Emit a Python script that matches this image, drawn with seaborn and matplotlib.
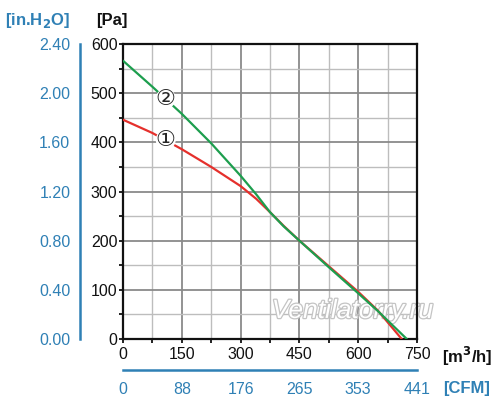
import numpy as np
import pandas as pd
import seaborn as sns
import matplotlib.pyplot as plt
import matplotlib.patheffects as pe
from matplotlib.ticker import MultipleLocator, FixedLocator, FixedFormatter

# curve 1 (red) and curve 2 (green), flow in m3/h, pressure in Pa
flow_1 = [0, 75, 150, 225, 300, 340, 375, 410, 450, 525, 600, 650, 711]
pa_1 = [446, 419, 386, 350, 311, 285, 258, 230, 200, 148, 96, 58, 0]
flow_2 = [0, 75, 150, 225, 300, 340, 375, 410, 450, 525, 600, 650, 724]
pa_2 = [566, 513, 458, 398, 332, 294, 258, 229, 200, 146, 93, 57, 0]

flow_ticks = [0, 150, 300, 450, 600, 750]
cfm_labels = ["0", "88", "176", "265", "353", "441"]
inh2o_max = 2.40

df = pd.concat([
    pd.DataFrame({"flow": flow_1, "pa": pa_1, "curve": "1"}),
    pd.DataFrame({"flow": flow_2, "pa": pa_2, "curve": "2"}),
])

sns.set_style("white")
plt.rcParams['font.family'] = ['Liberation Sans', 'DejaVu Sans']

blue = '#2f80b5'
W, H = 500, 413
fig = plt.figure(figsize=(5, 4.13), dpi=100)
x0, x1, y0, y1 = 123, 417, 339, 44
ax = fig.add_axes([x0 / W, 1 - y0 / H, (x1 - x0) / W, (y0 - y1) / H])

sns.lineplot(data=df, x="flow", y="pa", hue="curve", palette=['#e5302c', '#1d9e4e'],
             linewidth=1.6, legend=False, ax=ax, sort=False, zorder=3)

ax.set_xlim(0, 750)
ax.set_ylim(0, 600)
ax.xaxis.set_major_locator(MultipleLocator(150))
ax.xaxis.set_minor_locator(MultipleLocator(75))
ax.yaxis.set_major_locator(MultipleLocator(100))
ax.yaxis.set_minor_locator(MultipleLocator(50))
ax.grid(which='major', color='#8a8a8a', linewidth=1.3)
ax.grid(which='minor', color='#bdbdbd', linewidth=1.0)
ax.set_axisbelow(True)
for s in ax.spines.values():
    s.set_color('#111111')
    s.set_linewidth(1.6)
ax.tick_params(which='both', direction='out', length=3, width=1.3, colors='#111111',
               labelsize=11.5, pad=1)
ax.tick_params(axis='x', which='major', pad=3)
ax.tick_params(which='both', bottom=True, left=True)
ax.set_xlabel("")
ax.set_ylabel("")

# circled curve labels
ax.text(109, 489, "②", family='DejaVu Sans', fontsize=16, ha='center', va='center',
        zorder=5, bbox=dict(boxstyle='circle,pad=0.0', fc='white', ec='none'))
ax.text(109, 405, "①", family='DejaVu Sans', fontsize=16, ha='center', va='center',
        zorder=5, bbox=dict(boxstyle='circle,pad=0.0', fc='white', ec='none'))

# watermark
ax.text(585, 57, "Ventilatorry.ru", fontsize=19, style='italic', ha='center', va='center',
        color='white', zorder=2,
        path_effects=[pe.withStroke(linewidth=1.8, foreground='#c4c4c4')])

# left in.H2O axis
axl = fig.add_axes([80 / W, 1 - y0 / H, 0.0001, (y0 - y1) / H])
axl.set_ylim(0, inh2o_max)
axl.yaxis.set_major_locator(MultipleLocator(0.4))
axl.yaxis.set_minor_locator(MultipleLocator(0.2))
axl.yaxis.set_major_formatter(plt.FormatStrFormatter('%.2f'))
axl.set_xticks([])
for k in ['top', 'right', 'bottom']:
    axl.spines[k].set_visible(False)
axl.spines['left'].set_color(blue)
axl.spines['left'].set_linewidth(1.8)
axl.tick_params(which='both', direction='out', colors=blue, width=1.6, labelsize=11.5)
axl.tick_params(which='major', length=4, pad=3)
axl.tick_params(which='minor', length=3)
axl.patch.set_visible(False)

# bottom CFM axis
axb = fig.add_axes([x0 / W, 1 - 370 / H, (x1 - x0) / W, 0.0001])
axb.set_xlim(0, 750)
axb.xaxis.set_major_locator(FixedLocator(flow_ticks))
axb.xaxis.set_major_formatter(FixedFormatter(cfm_labels))
axb.xaxis.set_minor_locator(MultipleLocator(75))
axb.set_yticks([])
for k in ['top', 'right', 'left']:
    axb.spines[k].set_visible(False)
axb.spines['bottom'].set_color(blue)
axb.spines['bottom'].set_linewidth(1.8)
axb.tick_params(which='both', direction='out', colors=blue, width=1.6, labelsize=11.5)
axb.tick_params(which='major', length=4, pad=5)
axb.tick_params(which='minor', length=3)
axb.patch.set_visible(False)

# unit labels
fig.text(112 / W, 1 - 21 / H, "[Pa]", fontsize=12, fontweight='bold', color='#111111',
         ha='center', va='center')
fig.text(38 / W, 1 - 21 / H, "[in.H$_\\mathbf{2}$O]", fontsize=12, fontweight='bold',
         color=blue, ha='center', va='center')
fig.text(467 / W, 1 - 356 / H, "[m$^\\mathbf{3}$/h]", fontsize=12, fontweight='bold',
         color='#111111', ha='center', va='center')
fig.text(467 / W, 1 - 389 / H, "[CFM]", fontsize=12, fontweight='bold', color=blue,
         ha='center', va='center')

fig.savefig("out.png", dpi=100)
